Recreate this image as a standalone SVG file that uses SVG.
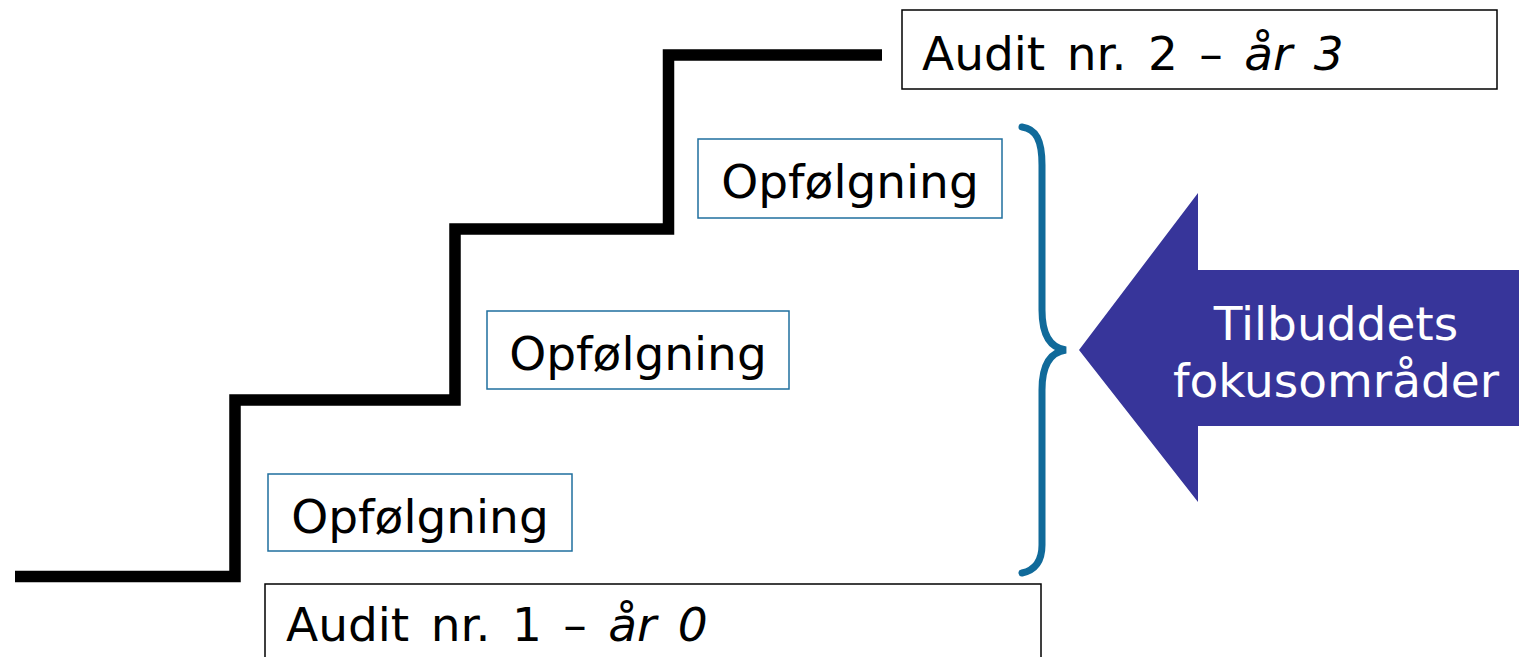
<svg xmlns="http://www.w3.org/2000/svg" width="1519" height="657" viewBox="0 0 1519 657">
<style>
text{font-family:"DejaVu Sans","Verdana",sans-serif;font-size:47px;fill:#000}
.blue{fill:#fff;stroke:#1f6f9e;stroke-width:1.5}
.blk{fill:#fff;stroke:#000;stroke-width:1.5}
.mid{text-anchor:middle}
.w{fill:#fff}
.ws{word-spacing:6.5px}
</style>
<rect width="1519" height="657" fill="#fff"/>
<g id="connectors">
<path d="M15 576.5 H235 V400 H455 V229 H668.5 V55 H882" fill="none" stroke="#000" stroke-width="11.5" stroke-linejoin="miter"/>
</g>
<g id="brace">
<path d="M1022 127 C1036 129 1042 140 1042 165 V310 C1042 335 1050 348 1066 350 C1050 352 1042 365 1042 390 V545 C1042 560 1036 570 1022 573" fill="none" stroke="#106a9a" stroke-width="7" stroke-linecap="round"/>
</g>
<g id="arrow">
<polygon points="1079,350 1198,193 1198,270 1519,270 1519,426 1198,426 1198,502" fill="#37359a"/>
<text class="mid w" x="1336" y="340">Tilbuddets</text>
<text class="mid w" x="1336" y="397">fokusområder</text>
</g>
<g id="audit2">
<rect class="blk" x="902" y="10" width="595" height="79"/>
<text class="ws" x="922" y="70">Audit nr. 2 – <tspan font-style="italic">år 3</tspan></text>
</g>
<g id="opf3">
<rect class="blue" x="698" y="139" width="304" height="79"/>
<text class="mid" x="850" y="198">Opfølgning</text>
</g>
<g id="opf2">
<rect class="blue" x="487" y="311" width="302" height="78"/>
<text class="mid" x="638" y="370">Opfølgning</text>
</g>
<g id="opf1">
<rect class="blue" x="268" y="474" width="304" height="77"/>
<text class="mid" x="420" y="533">Opfølgning</text>
</g>
<g id="audit1">
<rect class="blk" x="265" y="584" width="776" height="90"/>
<text class="ws" x="286" y="641">Audit nr. 1 – <tspan font-style="italic">år 0</tspan></text>
</g>
</svg>
